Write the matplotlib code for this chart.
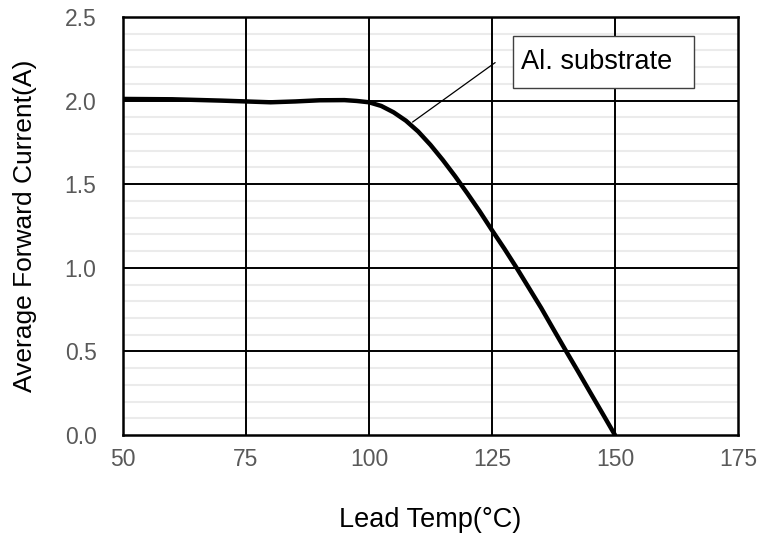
import matplotlib
matplotlib.use("Agg")
import matplotlib.pyplot as plt
from matplotlib.patches import Rectangle
from matplotlib.ticker import MultipleLocator

plt.rcParams['font.family'] = ['Liberation Sans', 'DejaVu Sans']

# derating curve
lead_temp = [50, 60, 70, 75, 80, 85, 90, 95, 97.5, 100, 102.5, 105, 107.5, 110,
             112.5, 115, 117.5, 120, 122.5, 125, 127.5, 130, 132.5, 135,
             137.5, 140, 142.5, 145, 147.5, 150]
avg_current = [2.01, 2.008, 2.0, 1.995, 1.99, 1.995, 2.002, 2.003, 1.998, 1.99, 1.968, 1.93, 1.88, 1.815,
               1.735, 1.645, 1.548, 1.445, 1.338, 1.225, 1.115, 1.0, 0.88, 0.76,
               0.632, 0.505, 0.38, 0.253, 0.127, 0.0]

x_ticks = [50, 75, 100, 125, 150, 175]
y_ticks = [0.0, 0.5, 1.0, 1.5, 2.0, 2.5]
label_text = "Al. substrate"

fig = plt.figure(figsize=(7.63, 5.40), dpi=100)
ax = fig.add_axes([0.1612, 0.1944, 0.806, 0.7741])

ax.set_xlim(50, 175)
ax.set_ylim(0, 2.5)
ax.set_xticks(x_ticks)
ax.set_yticks(y_ticks)
ax.set_yticklabels([f"{v:.1f}" for v in y_ticks])
ax.yaxis.set_minor_locator(MultipleLocator(0.1))

# grid: light minor rows first, black major lines on top
ax.grid(which='minor', axis='y', color='#ebebeb', lw=1.5, zorder=0.5)
for t in x_ticks[1:-1]:
    ax.axvline(t, color='black', lw=1.4, zorder=1)
for t in y_ticks[1:-1]:
    ax.axhline(t, color='black', lw=1.4, zorder=1)
ax.set_axisbelow(True)
ax.tick_params(which='both', length=0)
ax.tick_params(axis='x', pad=9, labelsize=16.5, labelcolor='#595959')
ax.tick_params(axis='y', pad=19, labelsize=16.5, labelcolor='#595959')
for s in ax.spines.values():
    s.set_linewidth(1.8)
    s.set_color('black')

ax.plot(lead_temp, avg_current, color='black', lw=3.2,
        solid_capstyle='round', solid_joinstyle='round', zorder=5)

ax.set_xlabel('Lead Temp(°C)', fontsize=19.5, labelpad=26)
ax.set_ylabel('Average Forward Current(A)', fontsize=19, labelpad=20)

# callout box with leader line
ax.add_patch(Rectangle((129.3, 2.075), 36.8, 0.311, facecolor='white',
                       edgecolor='#404040', lw=1.0, zorder=6))
ax.text(130.8, 2.23, label_text, fontsize=19.5, va='center', ha='left', zorder=7)
ax.annotate('', xy=(108.4, 1.862), xytext=(126.1, 2.237),
            arrowprops=dict(arrowstyle='-', color='black', lw=0.9), zorder=6)

fig.savefig('out.png', dpi=100)
